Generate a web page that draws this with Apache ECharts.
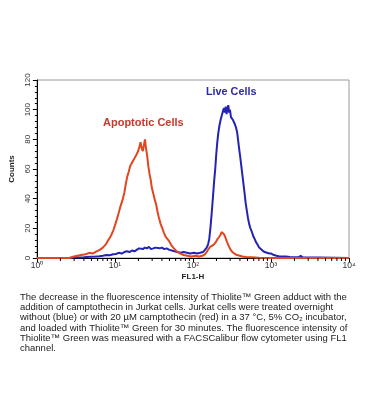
<!DOCTYPE html>
<html>
<head>
<meta charset="utf-8">
<script src="https://cdn.jsdelivr.net/npm/echarts@6/dist/echarts.min.js"></script>
<style>
html,body{margin:0;padding:0;background:#fff;}
#chart{width:370px;height:419px;}
</style>
</head>
<body>
<div id="chart"></div>
<script>
// FL1-H intensity vs counts
const liveCells = [
[1,0],[2.6,0],[3.2,0.3],[4.0,0.5],[4.8,0.8],[5.6,1],[6.3,1.2],[7.0,1.5],[7.8,2],[8.6,1.8],[9.5,2.5],[10.3,2.7],
[11.2,3.5],[12.2,3],[13.2,4],[14.2,4.5],[15.3,4],[16.5,5],[17.8,4.5],[19.0,5.5],[20.3,6.5],[21.5,7.5],[22.8,6],
[24.2,7],[25.7,6.5],[27.3,7.5],[29,6],[31,6.5],[33,7],[35,6],[37.5,6.5],[40,7],[43,6],[46,6.5],[50,5.5],[54,5],
[58,4.5],[63,4],[69,3.5],[76,4],[84,3.5],[93,3],[103,3.5],[113,3],[124,3.5],[135,4],[143,5],[150,7],[156,9],
[162,13],[168,21],[175,32],[181,42],[187,52],[193,60],[199,70],[205,78],[211,84],[218,89],[226,93],[234,96],
[242,99],[250,101],[256,98],[263,102],[270,97],[277,101],[284,103],[291,98],[298,100],[307,95],[316,96],
[326,93],[336,92],[346,90],[356,88],[368,85],[380,79],[392,73],[404,68],[417,62],[430,56],[444,50],[458,44],
[474,37],[490,32],[507,27],[525,23],[545,20],[566,18],[590,15],[615,13],[645,10.5],[675,9],[705,7],[740,6],
[780,5],[830,4],[890,3.5],[950,3],[1010,3],[1090,2],[1180,1.5],[1290,1],[1400,1],[1550,1],[1750,0.7],
[2000,0.5],[2250,0.5],[2400,1.5],[2550,0.5],[2700,0],[10000,0]
];
const apoptoticCells = [
[1,0],[2.6,0],[2.9,0.8],[3.3,1.5],[3.7,2],[4.2,2.5],[4.7,3.5],[5.2,3],[5.8,4.5],[6.4,5.5],[7.0,7],[7.6,9],
[8.2,12],[8.9,15],[9.6,19],[10.3,24],[11.0,29],[11.8,35],[12.5,39],[13.2,44],[13.8,50],[14.4,55],[15.0,58],
[15.7,62],[16.5,63],[17.3,66],[18.1,67],[19.0,70],[19.8,72],[20.6,75],[21.3,78],[22.0,74],[22.8,72],[23.5,76],
[24.3,80],[25.0,74],[25.9,69],[26.8,62],[27.7,57],[28.7,53],[29.8,47],[31.2,43],[32.5,39],[33.8,36],[35.2,31],
[36.7,27],[38.5,23],[40.5,20],[42.5,17],[45,14],[47.5,12.5],[50,11],[53,8.5],[57,6.5],[62,4.5],[69,3],[76,2],
[85,1.5],[95,1],[108,1.5],[120,1],[132,1.5],[142,2.5],[150,4],[158,6],[166,7.5],[175,8],[185,9],[195,10.5],
[205,12.5],[215,14],[225,15.5],[233,17.5],[242,18],[250,16],[260,14],[272,11],[288,8],[305,5.5],[320,4],
[340,3],[366,2],[400,1.5],[430,1],[480,0.7],[560,0.5],[700,0.2],[900,0],[10000,0]
];
const xTickLabels = ['10\u2070','10\u00b9','10\u00b2','10\u00b3','10\u2074'];
const xMinorTicks = [2,3,4,5,6,7,8,9,20,30,40,50,60,70,80,90,200,300,400,500,600,700,800,900,2000,3000,4000,5000,6000,7000,8000,9000];
const yTicks = [0,20,40,60,80,100,120];
const captionLines = [
'The decrease in the fluorescence intensity of Thiolite\u2122 Green adduct with the',
'addition of camptothecin in Jurkat cells. Jurkat cells were treated overnight',
'without (blue) or with 20 \u00b5M camptothecin (red) in a 37 \u00b0C, 5% CO\u2082 incubator,',
'and loaded with Thiolite\u2122 Green for 30 minutes. The fluorescence intensity of',
'Thiolite\u2122 Green was measured with a FACSCalibur flow cytometer using FL1',
'channel.'
];

const FONT = 'Liberation Sans, Arial, sans-serif';
const chart = echarts.init(document.getElementById('chart'));
chart.setOption({
  animation: false,
  backgroundColor: '#fff',
  grid: {left: 33, top: 80, width: 316, height: 178, show: true, borderColor: '#9a9a9a', borderWidth: 1, backgroundColor: 'transparent'},
  xAxis: {
    type: 'log', logBase: 10, min: 1, max: 10000,
    name: 'FL1-H', nameLocation: 'middle', nameGap: 15,
    nameTextStyle: {fontFamily: FONT, fontSize: 8, fontWeight: 'bold', color: '#222'},
    axisLine: {show: true, lineStyle: {color: '#000', width: 1}},
    axisTick: {show: true, length: 4, lineStyle: {color: '#000'}},
    axisLabel: {fontFamily: FONT, fontSize: 8.5, color: '#333', margin: 3,
      formatter: v => xTickLabels[Math.round(Math.log10(v))]},
    splitLine: {show: false}
  },
  yAxis: {
    type: 'value', min: yTicks[0], max: yTicks[yTicks.length-1], interval: 20,
    name: 'Counts', nameLocation: 'middle', nameGap: 13, nameRotate: 90,
    nameTextStyle: {fontFamily: FONT, fontSize: 8, fontWeight: 'bold', color: '#222'},
    axisLine: {show: true, lineStyle: {color: '#000', width: 1}},
    axisTick: {show: true, length: 4, lineStyle: {color: '#000'}},
    minorTick: {show: true, splitNumber: 5, length: 2, lineStyle: {color: '#000'}},
    axisLabel: {fontFamily: FONT, fontSize: 8, color: '#333', rotate: 90, margin: 5},
    splitLine: {show: false}
  },
  series: [
    {type: 'line', name: 'Live Cells', data: liveCells, showSymbol: false, symbol: 'none',
     lineStyle: {color: '#2424b4', width: 2}, itemStyle: {color: '#2424b4'}, z: 2},
    {type: 'line', name: 'Apoptotic Cells', data: apoptoticCells, showSymbol: false, symbol: 'none',
     lineStyle: {color: '#e2461e', width: 2}, itemStyle: {color: '#e2461e'}, z: 3},
    {type: 'custom', name: 'minorTicks', silent: true, clip: false, z: 5,
     data: xMinorTicks.map(v => [v, 0]),
     renderItem: (params, api) => {
       const p = api.coord([api.value(0), 0]);
       return {type: 'line', shape: {x1: p[0], y1: p[1], x2: p[0], y2: p[1] + 3},
               style: {stroke: '#000', lineWidth: 1}};
     }}
  ],
  graphic: [
    {type: 'text', left: 103, top: 117, style: {text: 'Apoptotic Cells', fill: '#c9382c', font: 'bold 11px ' + FONT}},
    {type: 'text', left: 206, top: 87, style: {text: 'Live Cells', fill: '#2b2b9e', font: 'bold 10.8px ' + FONT}},
    {type: 'text', left: 20, top: 292, style: {text: captionLines.join('\n'), fill: '#222', font: '9.5px ' + FONT, lineHeight: 10.3}}
  ]
});
</script>
</body>
</html>
